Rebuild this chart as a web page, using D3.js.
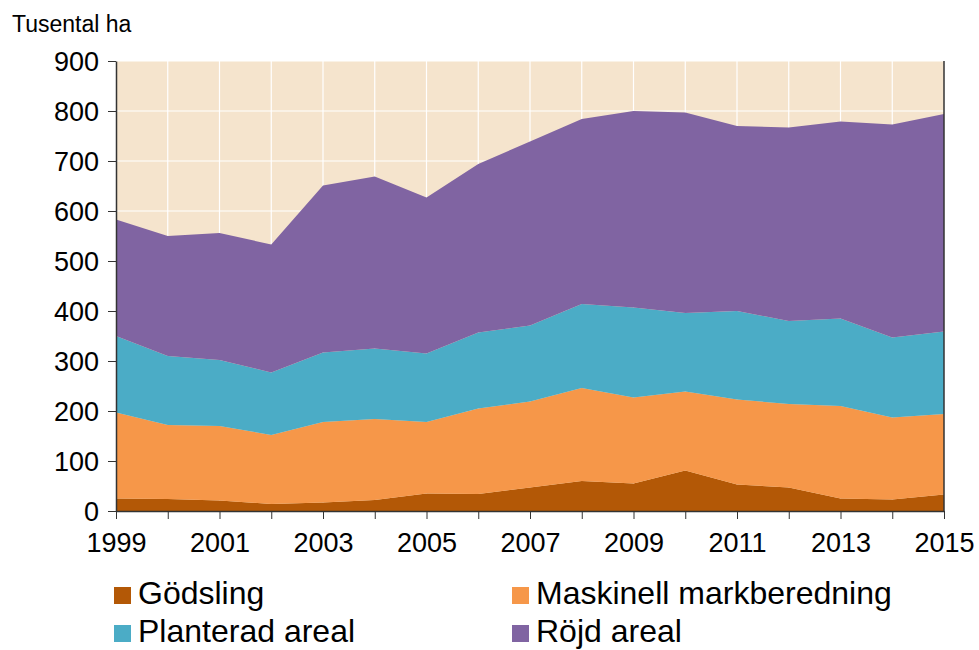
<!DOCTYPE html>
<html>
<head>
<meta charset="utf-8">
<script src="https://cdn.jsdelivr.net/npm/d3@7"></script>
<style>
  body { margin: 0; background: #fff; }
  svg { font-family: "Liberation Sans", Arial, sans-serif; }
</style>
</head>
<body>
<svg id="chart" width="979" height="650"></svg>
<script>
// data (tusental ha)
const years = [1999, 2000, 2001, 2002, 2003, 2004, 2005, 2006, 2007, 2008, 2009, 2010, 2011, 2012, 2013, 2014, 2015];
const godsling = [25, 24, 21, 14, 17, 22, 35, 34, 47, 60, 55, 81, 53, 47, 25, 23, 33];
const maskinell = [172, 148, 149, 138, 161, 162, 143, 171, 172, 186, 172, 158, 170, 167, 185, 164, 161];
const planterad = [153, 138, 132, 125, 139, 141, 137, 152, 152, 168, 180, 157, 177, 166, 175, 160, 165];
const rojd = [233, 240, 254, 256, 334, 344, 312, 337, 368, 370, 393, 401, 370, 387, 394, 426, 435];
const seriesNames = ["Gödsling", "Maskinell markberedning", "Planterad areal", "Röjd areal"];
const colors = ["#B35806", "#F69749", "#4BACC6", "#8064A2"];
const yTicks = [0, 100, 200, 300, 400, 500, 600, 700, 800, 900];
const xLabels = [1999, 2001, 2003, 2005, 2007, 2009, 2011, 2013, 2015];

const margin = {left: 116, right: 35, top: 61, bottom: 139};
const width = 979, height = 650;
const svg = d3.select("#chart");

// 1 build table and stack
const keys = ["g", "m", "p", "r"];
const table = years.map((y, i) => ({year: y, g: godsling[i], m: maskinell[i], p: planterad[i], r: rojd[i]}));
const stacked = d3.stack().keys(keys)(table);

// 2 scales
const x = d3.scaleLinear().domain([1999, 2015]).range([margin.left, width - margin.right]);
const y = d3.scaleLinear().domain([0, 900]).range([height - margin.bottom, margin.top]);

// 3 background and grid
svg.append("rect")
  .attr("x", x(1999)).attr("y", y(900))
  .attr("width", x(2015) - x(1999)).attr("height", y(0) - y(900))
  .attr("fill", "#F5E4CD");

svg.append("g")
  .selectAll("line.h").data(yTicks.slice(1)).join("line")
  .attr("x1", x(1999)).attr("x2", x(2015))
  .attr("y1", d => y(d)).attr("y2", d => y(d))
  .attr("stroke", "#fff").attr("stroke-width", 1.2);

svg.append("g")
  .selectAll("line.v").data(years.slice(1, -1)).join("line")
  .attr("x1", d => x(d)).attr("x2", d => x(d))
  .attr("y1", y(900)).attr("y2", y(0))
  .attr("stroke", "#fff").attr("stroke-width", 1.2);

// 4 areas
const area = d3.area()
  .x(d => x(d.data.year))
  .y0(d => y(d[0]))
  .y1(d => y(d[1]));

svg.append("g")
  .selectAll("path").data(stacked).join("path")
  .attr("d", area)
  .attr("fill", (d, i) => colors[i]);

// 5 axes
const yAxis = d3.axisLeft(y).tickValues(yTicks).tickSize(8).tickSizeOuter(0);
const gy = svg.append("g")
  .attr("transform", `translate(${x(1999)},0)`)
  .call(yAxis);
gy.selectAll("text").attr("font-size", 27).attr("fill", "#000").attr("dx", -6).attr("dy", "0.36em");
gy.selectAll("line").attr("stroke", "#333");
gy.select(".domain").attr("stroke", "#333").attr("stroke-width", 1.5);

const xAxis = d3.axisBottom(x).tickValues(years).tickSize(8).tickSizeOuter(0)
  .tickFormat(d => xLabels.includes(d) ? String(d) : "");
const gx = svg.append("g")
  .attr("transform", `translate(0,${y(0)})`)
  .call(xAxis);
gx.selectAll("text").attr("font-size", 27).attr("fill", "#000").attr("dy", "1.1em");
gx.selectAll("line").attr("stroke", "#333");
gx.select(".domain").attr("stroke", "#333").attr("stroke-width", 1.5);

// right border
svg.append("line")
  .attr("x1", x(2015)).attr("x2", x(2015))
  .attr("y1", y(900)).attr("y2", y(0))
  .attr("stroke", "#333").attr("stroke-width", 1.5);

// unit label
svg.append("text")
  .attr("x", 12).attr("y", 32)
  .attr("font-size", 23).attr("fill", "#000")
  .text("Tusental ha");

// 6 legend
const legendPos = [[114, 595.5], [512, 595.5], [114, 633.5], [512, 633.5]];
const legend = svg.append("g")
  .selectAll("g").data(seriesNames).join("g")
  .attr("transform", (d, i) => `translate(${legendPos[i][0]},${legendPos[i][1]})`);
legend.append("rect")
  .attr("x", 0).attr("y", -8.5).attr("width", 17).attr("height", 17)
  .attr("fill", (d, i) => colors[i]);
legend.append("text")
  .attr("x", 24).attr("y", 8.5)
  .attr("font-size", 32).attr("fill", "#000")
  .text(d => d);
</script>
</body>
</html>
